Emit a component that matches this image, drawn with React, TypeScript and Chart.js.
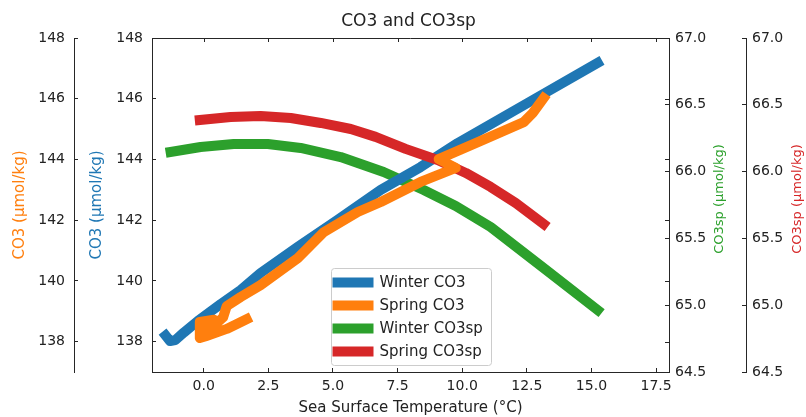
import React, { useEffect, useRef } from 'react';
import { Chart, registerables } from 'chart.js';

Chart.register(...registerables);

// ---- Data ----
const winterCo3X = [-1.47, -1.3, -1.1, -0.77, -0.23, 0.66, 1.43, 2.2, 3.64, 5.18, 6.85, 8.39, 9.83, 12.53, 15.24];
const winterCo3Y = [138.2, 138.02, 138.05, 138.3, 138.68, 139.24, 139.7, 140.26, 141.12, 142.01, 143.0, 143.75, 144.54, 145.86, 147.18];

const springCo3X = [1.66, 0.89, 0.08, -0.15, -0.15, 0.4, 0.1, 0.75, 0.89, 1.43, 2.2, 3.64, 4.64, 5.96, 6.85, 8.39, 9.75, 9.09, 10.72, 12.38, 12.73, 13.15];
const springCo3Y = [138.74, 138.42, 138.18, 138.12, 138.65, 138.72, 138.3, 138.8, 139.17, 139.47, 139.86, 140.75, 141.6, 142.27, 142.6, 143.26, 143.72, 144.01, 144.61, 145.23, 145.53, 146.02];

const winterCo3spX = [-1.28, -0.12, 1.16, 2.48, 3.75, 5.3, 6.96, 8.51, 9.75, 11.1, 13.15, 15.24];
const winterCo3spY = [66.147, 66.184, 66.207, 66.207, 66.177, 66.109, 65.997, 65.862, 65.743, 65.585, 65.278, 64.964];

const springCo3spX = [-0.15, 1.04, 2.2, 3.37, 4.53, 5.69, 6.65, 7.81, 9.05, 10.14, 11.1, 12.07, 13.15];
const springCo3spY = [66.386, 66.409, 66.416, 66.401, 66.364, 66.319, 66.26, 66.17, 66.087, 65.99, 65.885, 65.765, 65.608];

const seriesLabels = ['Winter CO3', 'Spring CO3', 'Winter CO3sp', 'Spring CO3sp'];
const seriesColors = ['#1f77b4', '#ff7f0e', '#2ca02c', '#d62728'];

const xTicks = [0, 2.5, 5, 7.5, 10, 12.5, 15, 17.5];
const co3Ticks = [138, 140, 142, 144, 146, 148];
const co3spTicks = [64.5, 65.0, 65.5, 66.0, 66.5, 67.0];

const chartTitle = 'CO3 and CO3sp';
const xTitle = 'Sea Surface Temperature (°C)';
const co3Title = 'CO3 (µmol/kg)';
const co3spTitle = 'CO3sp (µmol/kg)';

const FONT = "'DejaVu Sans', sans-serif";
const TEXT = '#222222';
const AXIS = '#262626';

const toPts = (xs: number[], ys: number[]) => xs.map((x, i) => ({ x, y: ys[i] }));

const extrasPlugin = {
  id: 'extras',
  afterDraw(chart: any) {
    const { ctx, chartArea, scales } = chart;
    const { left, right, top, bottom } = chartArea;
    ctx.save();
    // top spine with inward ticks
    ctx.strokeStyle = AXIS;
    ctx.lineWidth = 1;
    ctx.beginPath();
    ctx.moveTo(left, top + 0.5);
    ctx.lineTo(right, top + 0.5);
    for (const t of xTicks) {
      const px = Math.round(scales.x.getPixelForValue(t)) + 0.5;
      ctx.moveTo(px, top);
      ctx.lineTo(px, top + 4);
    }
    // mirrored left ticks on the right spine
    for (const t of co3Ticks) {
      const py = Math.round(scales.yBlue.getPixelForValue(t)) + 0.5;
      ctx.moveTo(right, py);
      ctx.lineTo(right - 4, py);
    }
    ctx.stroke();

    // title
    ctx.fillStyle = TEXT;
    ctx.font = `17px ${FONT}`;
    ctx.textAlign = 'center';
    ctx.textBaseline = 'middle';
    ctx.fillText(chartTitle, (left + right) / 2 - 2, 22);

    // right axis titles, reading bottom-to-top
    const cy = (top + bottom) / 2 - 6;
    const rt = [
      { x: scales.yGreen.right - 26, color: seriesColors[2] },
      { x: scales.yRed.right - 8, color: seriesColors[3] },
    ];
    ctx.font = `13px ${FONT}`;
    for (const r of rt) {
      ctx.save();
      ctx.translate(r.x, cy);
      ctx.rotate(-Math.PI / 2);
      ctx.fillStyle = r.color;
      ctx.fillText(co3spTitle, 0, 0);
      ctx.restore();
    }

    // legend (lower center)
    const w = 160, h = 97;
    const x0 = Math.round((left + right) / 2 - w / 2) + 0.5;
    const y0 = Math.round(bottom - 7 - h) + 0.5;
    const rad = 3;
    ctx.beginPath();
    ctx.moveTo(x0 + rad, y0);
    ctx.lineTo(x0 + w - rad, y0);
    ctx.arcTo(x0 + w, y0, x0 + w, y0 + rad, rad);
    ctx.lineTo(x0 + w, y0 + h - rad);
    ctx.arcTo(x0 + w, y0 + h, x0 + w - rad, y0 + h, rad);
    ctx.lineTo(x0 + rad, y0 + h);
    ctx.arcTo(x0, y0 + h, x0, y0 + h - rad, rad);
    ctx.lineTo(x0, y0 + rad);
    ctx.arcTo(x0, y0, x0 + rad, y0, rad);
    ctx.closePath();
    ctx.fillStyle = 'rgba(255,255,255,0.85)';
    ctx.fill();
    ctx.strokeStyle = '#cccccc';
    ctx.stroke();

    ctx.font = `15px ${FONT}`;
    ctx.textAlign = 'left';
    ctx.textBaseline = 'middle';
    seriesLabels.forEach((lab, i) => {
      const yc = y0 + 14 + i * 23;
      ctx.fillStyle = seriesColors[i];
      ctx.fillRect(x0 + 1, yc - 5, 41, 10);
      ctx.fillStyle = TEXT;
      ctx.fillText(lab, x0 + 48, yc + 1);
    });
    ctx.restore();
  },
};

const yAxisBase = (pos: 'left' | 'right', weight: number, width: number, ticks: number[], fmt: (v: number) => string, padding: number) => ({
  type: 'linear' as const,
  position: pos,
  weight,
  afterFit: (s: any) => { s.width = width; },
  afterBuildTicks: (s: any) => { s.ticks = ticks.map((v) => ({ value: v })); },
  border: { display: true, color: AXIS, width: 1 },
  grid: { drawOnChartArea: false, drawTicks: true, tickLength: -4, color: AXIS, lineWidth: 1 },
  ticks: { color: TEXT, font: { size: 14, family: FONT }, padding, callback: (v: any) => fmt(Number(v)) },
});

export default function App() {
  const ref = useRef<HTMLCanvasElement | null>(null);
  useEffect(() => {
    if (!ref.current) return;
    const chart = new Chart(ref.current, {
      type: 'line',
      data: {
        datasets: [
          { label: seriesLabels[0], data: toPts(winterCo3X, winterCo3Y), yAxisID: 'yBlue', borderColor: seriesColors[0], order: 2 },
          { label: seriesLabels[1], data: toPts(springCo3X, springCo3Y), yAxisID: 'yOrange', borderColor: seriesColors[1], order: 0 },
          { label: seriesLabels[2], data: toPts(winterCo3spX, winterCo3spY), yAxisID: 'yGreen', borderColor: seriesColors[2], order: 3 },
          { label: seriesLabels[3], data: toPts(springCo3spX, springCo3spY), yAxisID: 'yRed', borderColor: seriesColors[3], order: 1 },
        ].map((d) => ({
          ...d,
          borderWidth: 10,
          pointRadius: 0,
          pointHoverRadius: 0,
          tension: 0,
          fill: false,
          borderCapStyle: 'square' as const,
          borderJoinStyle: 'round' as const,
        })),
      },
      options: {
        animation: false,
        responsive: false,
        devicePixelRatio: 1,
        layout: { padding: { top: 38, left: 0, right: 0, bottom: 0 } },
        plugins: { legend: { display: false }, title: { display: false }, tooltip: { enabled: false } },
        scales: {
          x: {
            type: 'linear',
            min: -2,
            max: 18,
            afterFit: (s: any) => { s.height = 45; },
            afterBuildTicks: (s: any) => { s.ticks = xTicks.map((v) => ({ value: v })); },
            border: { display: true, color: AXIS, width: 1 },
            grid: { drawOnChartArea: false, drawTicks: true, tickLength: -4, color: AXIS, lineWidth: 1 },
            ticks: { color: TEXT, font: { size: 14, family: FONT }, padding: 10, maxRotation: 0, callback: (v: any) => Number(v).toFixed(1) },
            title: { display: true, text: xTitle, color: TEXT, font: { size: 15, family: FONT }, padding: { top: 0, bottom: 0 } },
          },
          yBlue: {
            ...yAxisBase('left', 0, 78, co3Ticks, (v) => String(v), 13),
            min: 137, max: 148,
            title: { display: true, text: co3Title, color: seriesColors[0], font: { size: 15, family: FONT }, padding: { top: 14, bottom: 0 } },
          },
          yOrange: {
            ...yAxisBase('left', 1, 74, co3Ticks, (v) => String(v), 13),
            min: 137, max: 148,
            title: { display: true, text: co3Title, color: seriesColors[1], font: { size: 15, family: FONT }, padding: { top: 11, bottom: 0 } },
          },
          yGreen: {
            ...yAxisBase('right', 0, 77, co3spTicks, (v) => v.toFixed(1), 10),
            min: 64.5, max: 67.0,
          },
          yRed: {
            ...yAxisBase('right', 1, 60, co3spTicks, (v) => v.toFixed(1), 10),
            min: 64.5, max: 67.0,
          },
        },
      },
      plugins: [extrasPlugin],
    } as any);
    return () => chart.destroy();
  }, []);
  return (
    <div style={{ position: 'fixed', left: 0, top: 0, width: 806, height: 417, background: '#fff' }}>
      <canvas ref={ref} width={806} height={417} />
    </div>
  );
}
